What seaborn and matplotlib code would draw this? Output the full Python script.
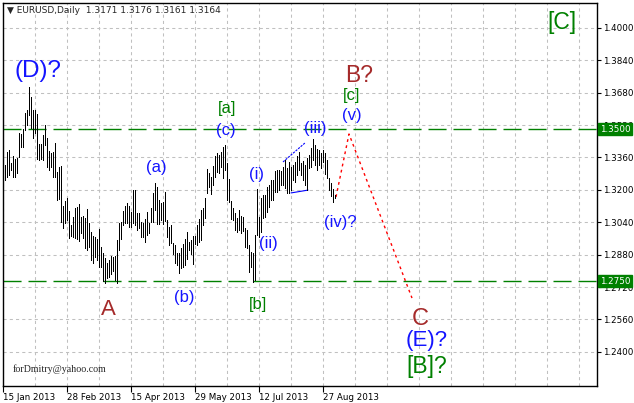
import numpy as np
import pandas as pd
import seaborn as sns
import matplotlib
matplotlib.use("Agg")
from matplotlib import pyplot as plt

# daily bars EURUSD (high / low), bar 0 = 16 Jan 2013
highs = [1.3323, 1.3387, 1.3397, 1.3333, 1.3367, 1.3353, 1.3358, 1.3481, 1.3476, 1.3501,
         1.3580, 1.3595, 1.3708, 1.3659, 1.3595, 1.3595, 1.3575, 1.3427, 1.3427, 1.3471,
         1.3521, 1.3456, 1.3392, 1.3382, 1.3387, 1.3432, 1.3288, 1.3313, 1.3318, 1.3120,
         1.3145, 1.3160, 1.3096, 1.3027, 1.3066, 1.3111, 1.3115, 1.3130, 1.3066, 1.3071,
         1.3061, 1.3106, 1.3036, 1.2992, 1.2972, 1.2967, 1.2957, 1.3007, 1.2918, 1.2888,
         1.2863, 1.2839, 1.2854, 1.2873, 1.2868, 1.2873, 1.2952, 1.3036, 1.3041, 1.3096,
         1.3120, 1.3135, 1.3120, 1.3091, 1.3199, 1.3199, 1.3086, 1.3086, 1.3041, 1.3036,
         1.3056, 1.3091, 1.3036, 1.3111, 1.3185, 1.3234, 1.3214, 1.3150, 1.3135, 1.3140,
         1.3189, 1.3051, 1.3017, 1.3027, 1.2937, 1.2928, 1.2888, 1.2888, 1.2913, 1.2932,
         1.2957, 1.2992, 1.2942, 1.2952, 1.2972, 1.2972, 1.3027, 1.3056, 1.3101, 1.3111,
         1.3160, 1.3303, 1.3283, 1.3264, 1.3318, 1.3367, 1.3382, 1.3372, 1.3387, 1.3412,
         1.3422, 1.3333, 1.3254, 1.3145, 1.3111, 1.3086, 1.3061, 1.3101, 1.3071, 1.3066,
         1.3012, 1.3002, 1.2928, 1.2893, 1.2888, 1.2977, 1.3204, 1.3066, 1.3160, 1.3175,
         1.3175, 1.3214, 1.3224, 1.3249, 1.3249, 1.3293, 1.3298, 1.3298, 1.3293, 1.3313,
         1.3348, 1.3308, 1.3338, 1.3313, 1.3323, 1.3338, 1.3367, 1.3387, 1.3333, 1.3343,
         1.3323, 1.3358, 1.3372, 1.3407, 1.3451, 1.3422, 1.3402, 1.3397, 1.3382, 1.3397,
         1.3382, 1.3348, 1.3259, 1.3234, 1.3204, 1.3176]
lows = [1.3249, 1.3264, 1.3274, 1.3298, 1.3264, 1.3264, 1.3284, 1.3362, 1.3412, 1.3412,
        1.3496, 1.3521, 1.3570, 1.3506, 1.3456, 1.3481, 1.3353, 1.3348, 1.3353, 1.3348,
        1.3422, 1.3313, 1.3298, 1.3313, 1.3264, 1.3264, 1.3150, 1.3155, 1.3041, 1.3012,
        1.3036, 1.3051, 1.2962, 1.2972, 1.2967, 1.2962, 1.2957, 1.2947, 1.2987, 1.2962,
        1.2913, 1.2903, 1.2918, 1.2854, 1.2839, 1.2868, 1.2854, 1.2819, 1.2819, 1.2750,
        1.2740, 1.2765, 1.2770, 1.2785, 1.2799, 1.2755, 1.2740, 1.2903, 1.2957, 1.3027,
        1.3036, 1.3036, 1.3017, 1.3017, 1.3036, 1.3027, 1.3002, 1.3012, 1.2967, 1.2967,
        1.2942, 1.2977, 1.2987, 1.3041, 1.3041, 1.3101, 1.3031, 1.3031, 1.3051, 1.3031,
        1.3046, 1.2967, 1.2928, 1.2937, 1.2883, 1.2839, 1.2829, 1.2789, 1.2814, 1.2819,
        1.2829, 1.2859, 1.2903, 1.2883, 1.2834, 1.2932, 1.2928, 1.2942, 1.2952, 1.3027,
        1.3061, 1.3185, 1.3214, 1.3180, 1.3224, 1.3264, 1.3288, 1.3283, 1.3313, 1.3259,
        1.3298, 1.3150, 1.3140, 1.3056, 1.3051, 1.3002, 1.2992, 1.3002, 1.2987, 1.2997,
        1.2918, 1.2913, 1.2794, 1.2819, 1.2745, 1.2755, 1.2977, 1.2967, 1.2992, 1.3061,
        1.3066, 1.3091, 1.3115, 1.3150, 1.3150, 1.3189, 1.3189, 1.3199, 1.3224, 1.3224,
        1.3209, 1.3185, 1.3185, 1.3199, 1.3249, 1.3239, 1.3274, 1.3298, 1.3274, 1.3249,
        1.3224, 1.3199, 1.3308, 1.3313, 1.3348, 1.3323, 1.3298, 1.3323, 1.3308, 1.3338,
        1.3278, 1.3259, 1.3199, 1.3170, 1.3140, 1.3161]

date_ticks = [-1, 31, 63, 95, 127, 159]
date_labels = ["15 Jan 2013", "28 Feb 2013", "15 Apr 2013", "29 May 2013", "12 Jul 2013", "27 Aug 2013"]
price_ticks = [1.2400, 1.2560, 1.2720, 1.2880, 1.3040, 1.3200, 1.3360, 1.3520, 1.3680, 1.3840, 1.4000]
levels = [1.3500, 1.2750]

# forecast path (iv) -> (v) -> C
wave_x = [165.5, 172, 203.5]
wave_p = [1.3165, 1.3476, 1.2666]
# triangle in wave (iv)
tri_up_x, tri_up_p = [139, 150], [1.3338, 1.3432]
tri_lo_x, tri_lo_p = [143, 151.5], [1.3185, 1.3199]

BLUE, GREEN, BROWN = "#1414ff", "#008000", "#a52a2a"
labels = [
    ("(D)?", 16.5, 1.3787, BLUE, 17.5),
    ("(a)", 75.5, 1.3313, BLUE, 12),
    ("[a]", 111, 1.3604, GREEN, 12),
    ("(c)", 110.5, 1.3491, BLUE, 12),
    ("(b)", 89.5, 1.2671, BLUE, 12),
    ("A", 51.5, 1.2607, BROWN, 16),
    ("[b]", 126.5, 1.2632, GREEN, 12),
    ("(i)", 126, 1.3274, BLUE, 12),
    ("(ii)", 131.5, 1.2933, BLUE, 12),
    ("(iii)", 155, 1.3501, BLUE, 12),
    ("(iv)?", 167.5, 1.3037, BLUE, 12),
    ("(v)", 173.5, 1.3565, BLUE, 12),
    ("[c]", 173.5, 1.3664, GREEN, 12),
    ("B?", 177, 1.3763, BROWN, 16.5),
    ("C", 207.5, 1.2563, BROWN, 17),
    ("(E)?", 211, 1.2454, BLUE, 16),
    ("[B]?", 211, 1.2330, GREEN, 16.5),
    ("[C]", 278.5, 1.4029, GREEN, 16.5),
]

sns.set_style("white")
plt.rcParams['font.family'] = ['DejaVu Sans']

bars = pd.DataFrame({"i": np.arange(len(highs)), "high": highs, "low": lows})

fig = plt.figure(figsize=(6.34, 4.03), dpi=100)
ax = fig.add_axes([3/634, 1-385.5/403, 594/634, 382.5/403])
ax.set_xlim(-1, 296)
ax.set_ylim(1.2234, 1.4123)

# grid
ax.set_xticks(date_ticks)
ax.set_xticks(np.arange(15, 296, 16), minor=True)
ax.set_yticks(price_ticks)
ax.grid(True, which="both", color="#c0c0c0", linestyle=(0, (3, 3)), linewidth=0.75)
ax.set_axisbelow(True)

for lv in levels:
    ax.axhline(lv, color=GREEN, linewidth=1.0, linestyle=(0, (13, 5)), zorder=2)

ax.vlines(bars["i"], bars["low"], bars["high"], color="black", linewidth=0.6,
          antialiased=False, zorder=3)

sns.lineplot(x=tri_up_x, y=tri_up_p, ax=ax, color="blue", linewidth=0.8, linestyle=(0, (2, 1)))
sns.lineplot(x=tri_lo_x, y=tri_lo_p, ax=ax, color="blue", linewidth=0.8)
sns.lineplot(x=wave_x, y=wave_p, ax=ax, color="red", linewidth=1.0, linestyle=(0, (2, 2.5)), sort=False)

for txt, xi, yp, col, fs in labels:
    ax.text(xi, yp, txt, color=col, fontsize=fs, ha="center", va="center",
            family=["Liberation Sans", "DejaVu Sans"], zorder=5)

ax.text(4, 1.2315, "forDmitry@yahoo.com", fontsize=7.2, family=["Liberation Serif", "DejaVu Serif"],
        ha="left", va="center")

# axes styling (MetaTrader look)
for s in ax.spines.values():
    s.set_color("black")
    s.set_linewidth(1.0)
ax.yaxis.tick_right()
ax.set_yticklabels([f"{v:.4f}" for v in price_ticks])
ax.set_xticklabels(date_labels)
ax.tick_params(axis="y", which="major", right=True, left=False, length=3, width=0.8,
               labelsize=6.3, pad=1.5, colors="black")
ax.tick_params(axis="x", which="major", bottom=True, length=4, width=0.8, labelsize=6.3,
               pad=1.5, colors="black")
ax.tick_params(axis="x", which="minor", length=0)
for lab in ax.get_xticklabels():
    lab.set_ha("left")
ax.set_xlabel("")
ax.set_ylabel("")

# price tags for the horizontal levels (drawn over the axis labels, as in the terminal)
for lv in levels:
    ax.annotate(f"{lv:.4f}", xy=(1.0, lv), xycoords=("axes fraction", "data"),
                xytext=(2, 0), textcoords="offset points", ha="left", va="center",
                fontsize=6.3, color="white", zorder=6,
                bbox=dict(boxstyle="square,pad=0.2", fc=GREEN, ec=GREEN))

fig.text(7/634, 1-10.5/403, "\u25bc EURUSD,Daily  1.3171 1.3176 1.3161 1.3164",
         fontsize=6.5, ha="left", va="center")

fig.savefig("out.png", dpi=100, facecolor="white")
